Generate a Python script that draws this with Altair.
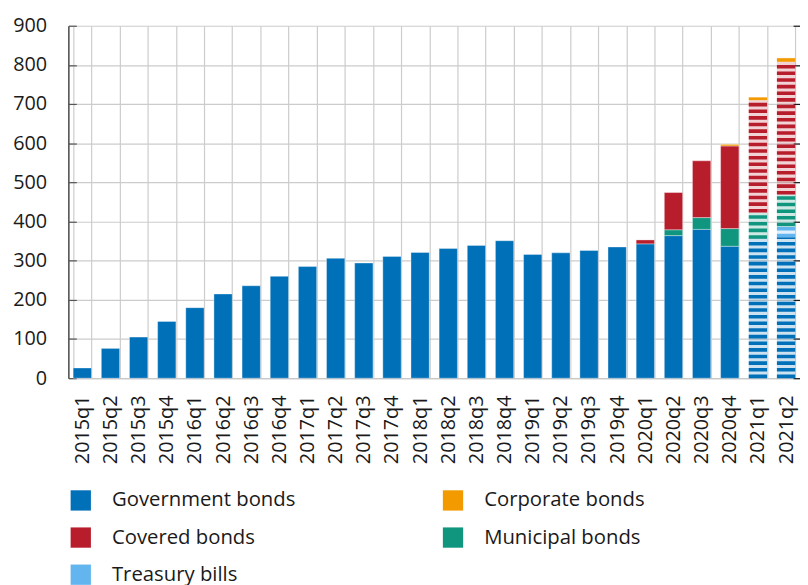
import altair as alt
import pandas as pd

quarters = ["2015q1", "2015q2", "2015q3", "2015q4", "2016q1", "2016q2", "2016q3", "2016q4",
            "2017q1", "2017q2", "2017q3", "2017q4", "2018q1", "2018q2", "2018q3", "2018q4",
            "2019q1", "2019q2", "2019q3", "2019q4", "2020q1", "2020q2", "2020q3", "2020q4",
            "2021q1", "2021q2"]
government = [26, 76, 105, 145, 180, 215, 236, 260, 285, 306, 294, 311, 321, 331, 339, 351,
              316, 320, 326, 335, 343, 364, 380, 337, 356, 360]
treasury = [0, 0, 0, 0, 0, 0, 0, 0, 0, 0, 0, 0, 0, 0, 0, 0,
            0, 0, 0, 0, 0, 0, 0, 0, 0, 28]
municipal = [0, 0, 0, 0, 0, 0, 0, 0, 0, 0, 0, 0, 0, 0, 0, 0,
             0, 0, 0, 0, 0, 15, 30, 45, 67, 81]
covered = [0, 0, 0, 0, 0, 0, 0, 0, 0, 0, 0, 0, 0, 0, 0, 0,
           0, 0, 0, 0, 10, 95, 145, 211, 287, 339]
corporate = [0, 0, 0, 0, 0, 0, 0, 0, 0, 0, 0, 0, 0, 0, 0, 0,
             0, 0, 0, 0, 0, 0, 0, 4, 7, 10]
hatched_quarters = ["2021q1", "2021q2"]

# legend is laid out column by column
legend_order = ["Government bonds", "Covered bonds", "Treasury bills", "Corporate bonds", "Municipal bonds"]
legend_colors = ["#0070B8", "#B81D2C", "#62B5EE", "#F39A00", "#10967F"]
stack_series = [("Government bonds", government), ("Treasury bills", treasury),
                ("Municipal bonds", municipal), ("Covered bonds", covered),
                ("Corporate bonds", corporate)]

rows = []
for order, (name, vals) in enumerate(stack_series):
    for q, v in zip(quarters, vals):
        if v > 0:
            rows.append({"quarter": q, "series": name, "value": v, "order": order,
                         "hatched": q in hatched_quarters})
df = pd.DataFrame(rows)

FONT = "Open Sans"
TXT = "#1a1a1a"
GRID = "#cccccc"
YVALS = [0, 100, 200, 300, 400, 500, 600, 700, 800, 900]

xscale = alt.Scale(domain=quarters, paddingInner=0.35, paddingOuter=0.17)
yscale = alt.Scale(domain=[0, 900], nice=False)
cscale = alt.Scale(domain=legend_order, range=legend_colors)

base = alt.Chart(df).transform_stack(
    stack="value", groupby=["quarter"], as_=["y0", "y1"],
    sort=[alt.SortField("order", order="ascending")]
)

solid = base.transform_filter("!datum.hatched").mark_bar(
    stroke="white", strokeOpacity=0.35, strokeWidth=1
).encode(
    x=alt.X("quarter:N", scale=xscale, sort=quarters,
            axis=alt.Axis(title=None, labelAngle=270, labelFontSize=20, labelFont=FONT,
                          labelColor=TXT, labelPadding=17, ticks=False,
                          domainColor="#c8c8c8", domainWidth=1.2,
                          grid=True, gridColor=GRID, gridWidth=1.2, tickBand="extent")),
    y=alt.Y("y0:Q", scale=yscale,
            axis=alt.Axis(title=None, values=YVALS,
                          format="d", labelFontSize=20, labelFont=FONT, labelColor=TXT,
                          labelPadding=22, ticks=False, domainColor=TXT, domainWidth=1.2,
                          grid=True, gridColor=GRID, gridWidth=1.2)),
    y2="y1:Q",
    color=alt.Color("series:N", scale=cscale,
                    legend=alt.Legend(orient="none", legendX=2, legendY=469, columns=2,
                                      title=None, symbolType="square", symbolSize=420,
                                      symbolStrokeWidth=0, symbolOpacity=1,
                                      labelFontSize=20.5, labelFont=FONT, labelColor=TXT,
                                      labelOffset=21, labelLimit=400, rowPadding=16.5,
                                      columnPadding=148, padding=0)),
)

pale = base.transform_filter("datum.hatched").mark_bar(opacity=0.2).encode(
    x=alt.X("quarter:N", scale=xscale, sort=quarters, axis=None),
    y=alt.Y("y0:Q", scale=yscale,
            axis=alt.Axis(orient="right", offset=-7, labels=False, domain=False, grid=False,
                          tickSize=7, tickColor=TXT, tickWidth=1.2, title=None,
                          values=YVALS)),
    y2="y1:Q",
    fill=alt.Fill("series:N", scale=cscale, legend=None),
)

stripes = base.transform_filter("datum.hatched").mark_rule(
    strokeWidth=18.5, strokeDash=[3.6, 3.1], strokeCap="butt"
).encode(
    x=alt.X("quarter:N", scale=xscale, sort=quarters, axis=None),
    y=alt.Y("y0:Q", scale=yscale,
            axis=alt.Axis(orient="left", offset=-8, labels=False, domain=False, grid=False,
                          tickSize=8, tickColor="#555555", tickWidth=1.2, title=None,
                          values=YVALS)),
    y2="y1:Q",
    stroke=alt.Stroke("series:N", scale=cscale, legend=None),
)

chart = alt.layer(solid, pale, stripes).resolve_axis(
    x="independent", y="independent"
).properties(
    width=739, height=356,
    autosize=alt.AutoSizeParams(type="none"),
    padding={"left": 61, "top": 15, "right": 0, "bottom": 206},
).configure(font=FONT).configure_view(stroke=None)

chart.save("out.html", embed_options={"renderer": "svg", "actions": False})
